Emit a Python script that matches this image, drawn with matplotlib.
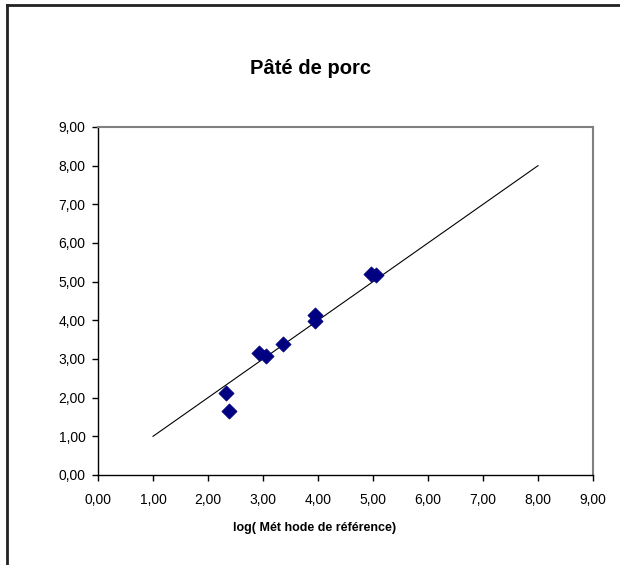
import matplotlib
matplotlib.use("Agg")
import matplotlib.pyplot as plt
from matplotlib.lines import Line2D
from matplotlib.ticker import FuncFormatter

plt.rcParams['font.family'] = ['Liberation Sans', 'DejaVu Sans']

# Data
x_ref = [2.32, 2.39, 2.92, 3.05, 3.36, 3.94, 3.94, 4.97, 5.05]
y_alt = [2.12, 1.66, 3.16, 3.09, 3.40, 4.13, 3.99, 5.19, 5.17]
line_x = [1.0, 8.0]
line_y = [1.0, 8.0]
ticks = [0, 1, 2, 3, 4, 5, 6, 7, 8, 9]
title = "Pâté de porc"
xlabel = "log( Mét hode de référence)"

fig = plt.figure(figsize=(6.2, 5.65), dpi=100)
fig.patch.set_facecolor('white')

# outer chart frame (top and left edges visible)
fig.add_artist(Line2D([6.5/620, 6.5/620], [0, 1 - 5/565], transform=fig.transFigure,
                      color='#222222', lw=2.0))
fig.add_artist(Line2D([6.5/620, 1], [1 - 5/565, 1 - 5/565], transform=fig.transFigure,
                      color='#222222', lw=2.0))

ax = fig.add_axes([98/620, (565-475)/565, (593-98)/620, (475-127)/565])
ax.plot(line_x, line_y, color='black', lw=0.8, zorder=2)
ax.scatter(x_ref, y_alt, marker='D', s=60, color='#000080', edgecolors='#000080',
           linewidths=0.5, zorder=3)

ax.set_xlim(0, 9)
ax.set_ylim(0, 9)
ax.set_xticks(ticks)
ax.set_yticks(ticks)
fmt = FuncFormatter(lambda v, p: f"{v:.2f}".replace('.', ','))
ax.xaxis.set_major_formatter(fmt)
ax.yaxis.set_major_formatter(fmt)
ax.tick_params(axis='both', direction='out', length=4, width=1, color='black',
               labelsize=10, pad=5)
ax.tick_params(axis='x', pad=9)

for s in ['left', 'bottom']:
    ax.spines[s].set_color('black')
    ax.spines[s].set_linewidth(1.0)
for s in ['top', 'right']:
    ax.spines[s].set_color('#808080')
    ax.spines[s].set_linewidth(1.5)

fig.text(310/620, 1 - 68/565, title, ha='center', va='center', fontsize=14.5,
         fontweight='bold')
fig.text(315/620, 1 - 528/565, xlabel, ha='center', va='center', fontsize=9,
         fontweight='bold')

fig.savefig('out.png', dpi=100, facecolor='white')
